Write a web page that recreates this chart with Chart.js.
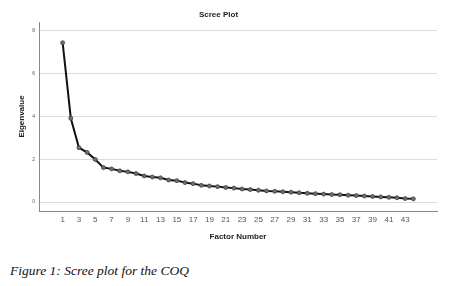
<!DOCTYPE html>
<html>
<head>
<meta charset="utf-8">
<script src="https://cdn.jsdelivr.net/npm/chart.js@4"></script>
<style>
  body { margin: 0; background: #fff; }
  .wrap { position: relative; width: 456px; height: 286px; }
  #chart { position: absolute; left: 0; top: 0; }
  .caption {
    position: absolute; left: 10px; top: 263px;
    font-family: "Liberation Serif", "Times New Roman", serif;
    font-style: italic; font-size: 13.5px; color: #111;
  }
</style>
</head>
<body>
<div class="wrap">
  <canvas id="chart" width="456" height="250"></canvas>
  <div class="caption">Figure 1: Scree plot for the COQ</div>
</div>
<script>
// factor numbers 1..44 and eigenvalues
const factors = [1,2,3,4,5,6,7,8,9,10,11,12,13,14,15,16,17,18,19,20,21,22,
  23,24,25,26,27,28,29,30,31,32,33,34,35,36,37,38,39,40,41,42,43,44]
const eigenvalues = [7.45,3.92,2.54,2.32,1.99,1.61,1.55,1.46,1.41,1.33,1.22,1.17,
  1.13,1.03,1.0,0.91,0.86,0.78,0.75,0.72,0.68,0.65,0.61,0.58,0.55,0.52,0.5,0.48,
  0.46,0.43,0.41,0.39,0.37,0.35,0.34,0.32,0.3,0.28,0.26,0.24,0.22,0.2,0.16,0.15]
const xTicks = [1,3,5,7,9,11,13,15,17,19,21,23,25,27,29,31,33,35,37,39,41,43]
const yTicks = [0,2,4,6,8]

const points = factors.map((f, i) => ({ x: f, y: eigenvalues[i] }))

const labelFont = { family: 'Arial, "Liberation Sans"', size: 8, weight: 'bold' }

new Chart(document.getElementById('chart'), {
  type: 'line',
  data: {
    datasets: [{
      data: points,
      borderColor: '#111',
      borderWidth: 2,
      pointRadius: 2,
      pointBackgroundColor: '#6e6e6e',
      pointBorderColor: '#444',
      pointBorderWidth: 0.8,
      tension: 0
    }]
  },
  options: {
    responsive: false,
    animation: false,
    layout: { padding: { left: 0, right: 19, top: 0, bottom: 8 } },
    plugins: {
      legend: { display: false },
      tooltip: { enabled: false },
      title: {
        display: true,
        text: 'Scree Plot',
        color: '#222',
        font: labelFont,
        padding: { top: 10, bottom: 2.4 }
      }
    },
    scales: {
      x: {
        type: 'linear',
        min: -1.9,
        max: 46.9,
        afterBuildTicks: scale => { scale.ticks = xTicks.map(v => ({ value: v })) },
        afterFit: scale => { scale.height = 31 },
        grid: { display: false, drawTicks: false },
        border: { display: true, color: '#8a8a8a', width: 1 },
        ticks: {
          color: '#555',
          font: { family: 'Arial, "Liberation Sans"', size: 8 },
          padding: 4,
          maxRotation: 0,
          autoSkip: false
        },
        title: {
          display: true,
          text: 'Factor Number',
          color: '#222',
          font: labelFont,
          padding: { top: 5, bottom: 0 }
        }
      },
      y: {
        min: -0.42,
        max: 8.42,
        afterBuildTicks: scale => { scale.ticks = yTicks.map(v => ({ value: v })) },
        afterFit: scale => { scale.width = 39 },
        grid: { color: '#dcdcdc', lineWidth: 1, drawTicks: false },
        border: { display: true, color: '#8a8a8a', width: 1 },
        ticks: {
          color: '#555',
          font: { family: 'Arial, "Liberation Sans"', size: 5 },
          padding: 4
        },
        title: {
          display: true,
          text: 'Eigenvalue',
          color: '#222',
          font: labelFont,
          padding: { top: 17, bottom: 0 }
        }
      }
    }
  }
})
</script>
</body>
</html>
